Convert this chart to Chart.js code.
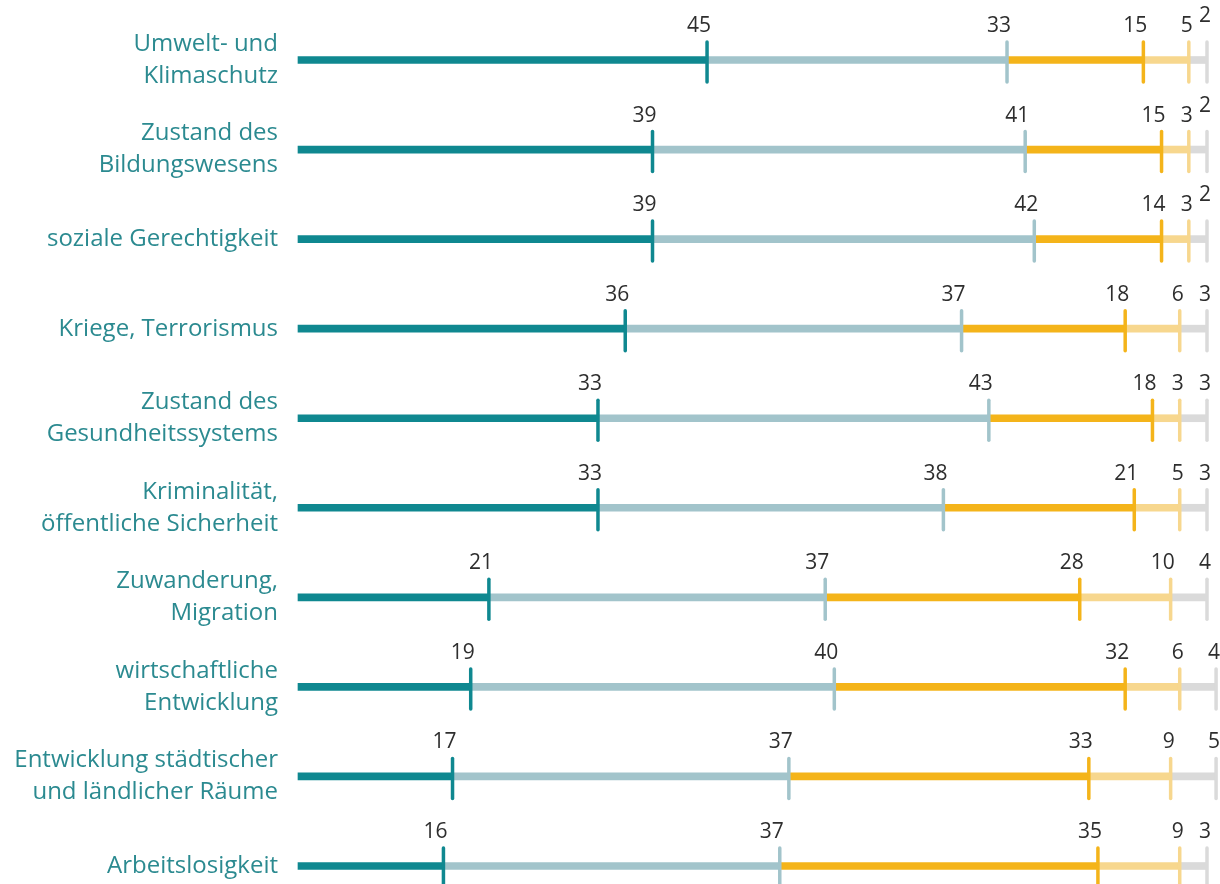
<!DOCTYPE html>
<html lang="de">
<head>
<meta charset="utf-8">
<title>Themen</title>
<script src="https://cdn.jsdelivr.net/npm/chart.js@4.4.1/dist/chart.umd.min.js"></script>
<style>
  html, body { margin: 0; padding: 0; background: #ffffff; overflow: hidden; }
  #wrap { position: relative; width: 1220px; height: 884px; }
</style>
</head>
<body>
<div id="wrap"><canvas id="chart"></canvas></div>
<script>
const categories = [
  ['Umwelt- und', 'Klimaschutz'],
  ['Zustand des', 'Bildungswesens'],
  'soziale Gerechtigkeit',
  'Kriege, Terrorismus',
  ['Zustand des', 'Gesundheitssystems'],
  ['Kriminalität,', 'öffentliche Sicherheit'],
  ['Zuwanderung,', 'Migration'],
  ['wirtschaftliche', 'Entwicklung'],
  ['Entwicklung städtischer', 'und ländlicher Räume'],
  'Arbeitslosigkeit',
];

const seriesA = [45, 39, 39, 36, 33, 33, 21, 19, 17, 16];
const seriesB = [33, 41, 42, 37, 43, 38, 37, 40, 37, 37];
const seriesC = [15, 15, 14, 18, 18, 21, 28, 32, 33, 35];
const seriesD = [5, 3, 3, 6, 3, 5, 10, 6, 9, 9];
const seriesE = [2, 2, 2, 3, 3, 3, 4, 4, 5, 3];

const COLORS = ['#0f8890', '#a2c4cb', '#f4b41a', '#f7d78e', '#dadada'];
const LABEL_COLOR = '#2b8a90';
const VALUE_COLOR = '#2e2e2e';
const FONT_FAMILY = '"Open Sans", "DejaVu Sans", sans-serif';

const segmentMarkers = {
  id: 'segmentMarkers',
  afterDatasetsDraw(chart) {
    const ctx = chart.ctx;
    const rows = chart.data.labels.length;
    const lastRight = new Array(rows).fill(-Infinity);

    ctx.save();
    ctx.font = '21px ' + FONT_FAMILY;
    ctx.textAlign = 'right';
    ctx.textBaseline = 'alphabetic';

    chart.data.datasets.forEach((dataset, i) => {
      const meta = chart.getDatasetMeta(i);
      meta.data.forEach((bar, j) => {
        const x = bar.x;
        const y = bar.y;

        ctx.strokeStyle = dataset.backgroundColor;
        ctx.lineWidth = 3.5;
        ctx.lineCap = 'round';
        ctx.beginPath();
        ctx.moveTo(x, y - 18);
        ctx.lineTo(x, y + 22);
        ctx.stroke();

        // value label sits right-aligned at the marker, raised if it would collide
        const text = String(dataset.data[j]);
        const right = x + 4;
        const width = ctx.measureText(text).width;
        let baseline = y - 28;
        if (right - width < lastRight[j] + 10) {
          baseline -= 10;
        }
        ctx.fillStyle = VALUE_COLOR;
        ctx.fillText(text, right, baseline);
        lastRight[j] = right;
      });
    });
    ctx.restore();
  },
};

function makeDataset(label, data, color) {
  return {
    label: label,
    data: data,
    backgroundColor: color,
    borderWidth: 0,
    barThickness: 7,
    clip: false,
  };
}

const data = {
  labels: categories,
  datasets: [
    makeDataset('A', seriesA, COLORS[0]),
    makeDataset('B', seriesB, COLORS[1]),
    makeDataset('C', seriesC, COLORS[2]),
    makeDataset('D', seriesD, COLORS[3]),
    makeDataset('E', seriesE, COLORS[4]),
  ],
};

const options = {
  indexAxis: 'y',
  responsive: true,
  maintainAspectRatio: false,
  animation: false,
  layout: {
    padding: { top: 60, bottom: 18, left: 0, right: 13 },
  },
  scales: {
    x: {
      stacked: true,
      display: false,
      min: 0,
      max: 100,
    },
    y: {
      stacked: true,
      offset: false,
      grid: { display: false, drawTicks: false },
      border: { display: false },
      afterFit(scale) {
        scale.width = 298;
        scale.paddingTop = 0;
        scale.paddingBottom = 0;
      },
      ticks: {
        autoSkip: false,
        padding: 20,
        color: LABEL_COLOR,
        font: { family: FONT_FAMILY, size: 24, lineHeight: 1.34 },
      },
    },
  },
  plugins: {
    legend: { display: false },
    tooltip: { enabled: false },
  },
};

new Chart(document.getElementById('chart'), {
  type: 'bar',
  data: data,
  options: options,
  plugins: [segmentMarkers],
});
</script>
</body>
</html>
